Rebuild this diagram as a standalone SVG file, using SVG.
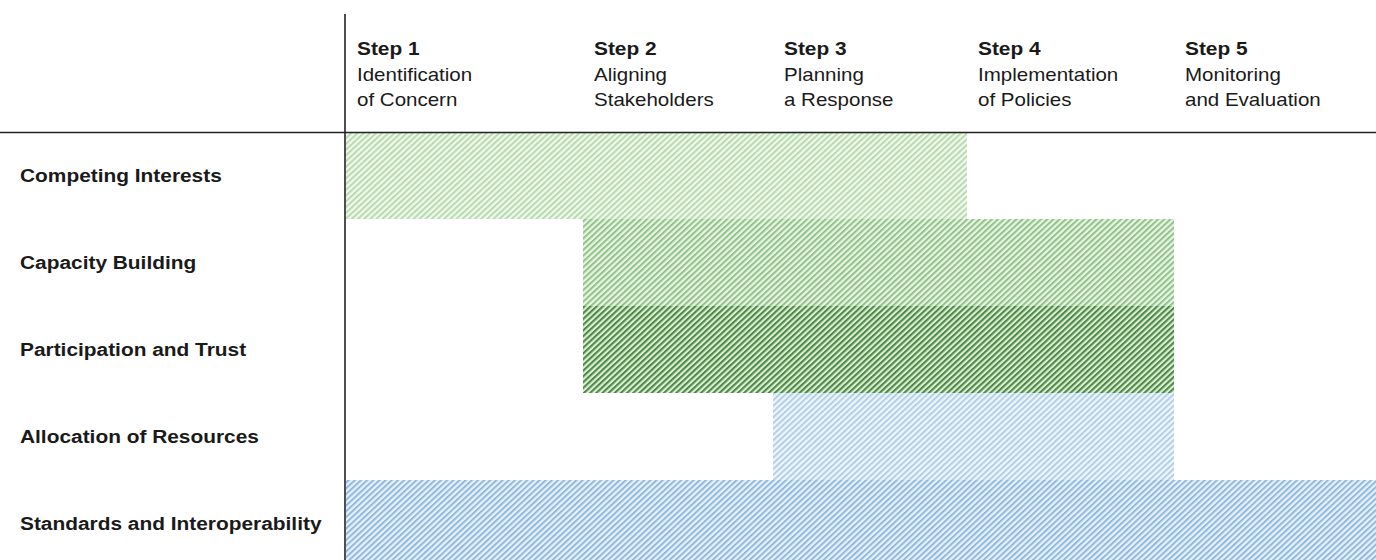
<svg xmlns="http://www.w3.org/2000/svg" width="1376" height="560" viewBox="0 0 1376 560">
  <style>
    .lbl { font-family: "Liberation Sans", Arial, sans-serif; font-size: 18px; font-weight: bold; fill: #1a1a1a; }
    .sub { font-family: "Liberation Sans", Arial, sans-serif; font-size: 18px; font-weight: normal; fill: #1a1a1a; }
    .axis { stroke: #222; stroke-width: 1.6; fill: none; }
  </style>
  <defs>
    <pattern id="pCI" patternUnits="userSpaceOnUse" width="4.2" height="10" patternTransform="rotate(47)">
      <rect width="4.2" height="10" fill="#f2f8ef"/>
      <rect width="2" height="10" fill="#b6dbae"/>
    </pattern>
    <pattern id="pCB" patternUnits="userSpaceOnUse" width="4.2" height="10" patternTransform="rotate(47)">
      <rect width="4.2" height="10" fill="#eaf4e6"/>
      <rect width="2" height="10" fill="#8fc487"/>
    </pattern>
    <pattern id="pPT" patternUnits="userSpaceOnUse" width="4.2" height="10" patternTransform="rotate(47)">
      <rect width="4.2" height="10" fill="#dfeed9"/>
      <rect width="2.1" height="10" fill="#4d8a45"/>
    </pattern>
    <pattern id="pAR" patternUnits="userSpaceOnUse" width="4.2" height="10" patternTransform="rotate(47)">
      <rect width="4.2" height="10" fill="#f0f6fb"/>
      <rect width="2" height="10" fill="#b0cfe9"/>
    </pattern>
    <pattern id="pSI" patternUnits="userSpaceOnUse" width="4.2" height="10" patternTransform="rotate(47)">
      <rect width="4.2" height="10" fill="#e8f1f9"/>
      <rect width="2" height="10" fill="#8fbadf"/>
    </pattern>
  </defs>
  <rect width="1376" height="560" fill="#ffffff"/>

  <g id="row-competing-interests">
    <rect x="346" y="133" width="621" height="86" fill="url(#pCI)"/>
    <text class="lbl" transform="translate(20,182) scale(1.16,1)">Competing Interests</text>
  </g>
  <g id="row-capacity-building">
    <rect x="583" y="219" width="591" height="87" fill="url(#pCB)"/>
    <text class="lbl" transform="translate(20,269) scale(1.16,1)">Capacity Building</text>
  </g>
  <g id="row-participation-trust">
    <rect x="583" y="306" width="591" height="87" fill="url(#pPT)"/>
    <text class="lbl" transform="translate(20,356) scale(1.16,1)">Participation and Trust</text>
  </g>
  <g id="row-allocation-resources">
    <rect x="773" y="393" width="401" height="87" fill="url(#pAR)"/>
    <text class="lbl" transform="translate(20,443) scale(1.16,1)">Allocation of Resources</text>
  </g>
  <g id="row-standards-interoperability">
    <rect x="346" y="480" width="1030" height="80" fill="url(#pSI)"/>
    <text class="lbl" transform="translate(20,530) scale(1.16,1)">Standards and Interoperability</text>
  </g>

  <g id="axes">
    <line class="axis" x1="345" y1="14" x2="345" y2="560"/>
    <line class="axis" x1="0" y1="132.5" x2="1376" y2="132.5"/>
  </g>

  <g id="step-1">
    <text class="lbl" transform="translate(357,55) scale(1.16,1)">Step 1</text>
    <text class="sub" transform="translate(357,80.5) scale(1.14,1)">Identification</text>
    <text class="sub" transform="translate(357,106) scale(1.14,1)">of Concern</text>
  </g>
  <g id="step-2">
    <text class="lbl" transform="translate(594,55) scale(1.16,1)">Step 2</text>
    <text class="sub" transform="translate(594,80.5) scale(1.14,1)">Aligning</text>
    <text class="sub" transform="translate(594,106) scale(1.14,1)">Stakeholders</text>
  </g>
  <g id="step-3">
    <text class="lbl" transform="translate(784,55) scale(1.16,1)">Step 3</text>
    <text class="sub" transform="translate(784,80.5) scale(1.14,1)">Planning</text>
    <text class="sub" transform="translate(784,106) scale(1.14,1)">a Response</text>
  </g>
  <g id="step-4">
    <text class="lbl" transform="translate(978,55) scale(1.16,1)">Step 4</text>
    <text class="sub" transform="translate(978,80.5) scale(1.14,1)">Implementation</text>
    <text class="sub" transform="translate(978,106) scale(1.14,1)">of Policies</text>
  </g>
  <g id="step-5">
    <text class="lbl" transform="translate(1185,55) scale(1.16,1)">Step 5</text>
    <text class="sub" transform="translate(1185,80.5) scale(1.14,1)">Monitoring</text>
    <text class="sub" transform="translate(1185,106) scale(1.14,1)">and Evaluation</text>
  </g>
</svg>
